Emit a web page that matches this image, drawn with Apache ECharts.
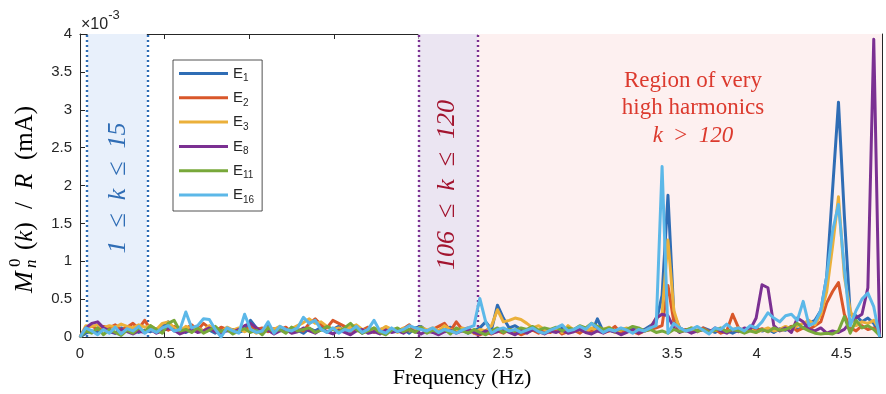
<!DOCTYPE html>
<html><head><meta charset="utf-8">
<script src="https://cdn.jsdelivr.net/npm/echarts@6/dist/echarts.min.js"></script>
<style>html,body{margin:0;padding:0;background:#fff}#c{width:886px;height:394px}</style>
</head><body><div id="c"></div>
<script>
// ---- data (values in units of 1e-3 mA) ----
const FREQ_STEP = 0.03475;           // Hz between spectral samples
const N_SAMPLES = 137;
const freq = Array.from({length: N_SAMPLES}, (_, i) => +(i * FREQ_STEP).toFixed(5));
const seriesNames = ['E1', 'E2', 'E3', 'E8', 'E11', 'E16'];

const E1 = [
 0,0.05,0.08,0.06,0.1,0.07,0.05,0.12,0.08,0.1,0.06,0.09,0.07,0.11,0.13,0.2,0.08,0.12,0.06,0.1,
 0.14,0.07,0.09,0.05,0.12,0.08,0.1,0.06,0.09,0.22,0.12,0.08,0.15,0.07,0.1,0.06,0.12,0.09,0.05,0.11,
 0.08,0.13,0.06,0.1,0.14,0.07,0.09,0.12,0.05,0.1,0.08,0.06,0.11,0.09,0.07,0.1,0.05,0.12,0.14,0.08,
 0.1,0.06,0.09,0.13,0.07,0.1,0.05,0.08,0.12,0.2,0.1,0.42,0.25,0.12,0.15,0.1,0.08,0.12,0.06,0.09,
 0.1,0.07,0.12,0.08,0.1,0.1,0.08,0.05,0.24,0.07,0.09,0.06,0.1,0.08,0.12,0.07,0.1,0.15,0.2,0.55,
 1.87,0.3,0.12,0.08,0.1,0.07,0.12,0.09,0.06,0.1,0.08,0.05,0.09,0.07,0.1,0.12,0.08,0.1,0.06,0.11,
 0.09,0.14,0.1,0.12,0.18,0.22,0.35,0.8,1.95,3.1,1.6,0.3,0.28,0.2,0.25,0.18,0.05];
const E2 = [
 0,0.12,0.15,0.1,0.14,0.12,0.16,0.09,0.13,0.18,0.11,0.22,0.1,0.06,0.12,0.09,0.14,0.08,0.11,0.16,
 0.09,0.18,0.12,0.07,0.13,0.1,0.06,0.11,0.08,0.14,0.1,0.12,0.07,0.11,0.09,0.13,0.06,0.1,0.08,0.18,
 0.24,0.16,0.12,0.22,0.18,0.14,0.07,0.11,0.09,0.13,0.06,0.1,0.12,0.07,0.09,0.11,0.16,0.08,0.12,0.06,
 0.1,0.14,0.18,0.08,0.2,0.1,0.12,0.05,0.03,0.06,0.04,0.08,0.05,0.1,0.07,0.03,0.06,0.09,0.05,0.08,
 0.06,0.1,0.04,0.07,0.09,0.05,0.11,0.07,0.12,0.06,0.08,0.14,0.05,0.09,0.07,0.04,0.08,0.1,0.12,0.15,
 0.68,0.2,0.08,0.1,0.06,0.09,0.12,0.07,0.1,0.05,0.08,0.3,0.12,0.06,0.1,0.08,0.11,0.07,0.12,0.09,
 0.1,0.14,0.08,0.12,0.1,0.15,0.2,0.45,0.6,0.72,0.3,0.12,0.08,0.15,0.1,0.12,0.06];
const E3 = [
 0,0.15,0.14,0.16,0.12,0.15,0.13,0.17,0.14,0.12,0.16,0.13,0.15,0.1,0.18,0.2,0.12,0.08,0.14,0.1,
 0.12,0.08,0.15,0.1,0.06,0.13,0.09,0.12,0.07,0.1,0.05,0.08,0.12,0.1,0.14,0.08,0.11,0.15,0.19,0.24,
 0.18,0.2,0.14,0.1,0.12,0.09,0.13,0.16,0.1,0.07,0.12,0.09,0.14,0.1,0.06,0.12,0.08,0.1,0.13,0.09,
 0.12,0.08,0.15,0.1,0.07,0.12,0.09,0.05,0.1,0.08,0.15,0.36,0.2,0.22,0.25,0.23,0.18,0.12,0.15,0.1,
 0.08,0.12,0.06,0.15,0.09,0.1,0.07,0.12,0.08,0.1,0.13,0.06,0.09,0.12,0.07,0.1,0.08,0.12,0.25,0.3,
 1.28,0.35,0.1,0.08,0.12,0.07,0.1,0.06,0.09,0.11,0.07,0.1,0.12,0.08,0.1,0.06,0.09,0.12,0.08,0.1,
 0.14,0.1,0.15,0.18,0.22,0.16,0.3,0.6,1.2,1.85,0.8,0.35,0.15,0.2,0.18,0.22,0.1];
const E8 = [
 0,0.12,0.18,0.2,0.12,0.08,0.05,0.1,0.07,0.04,0.08,0.06,0.1,0.05,0.08,0.12,0.09,0.04,0.07,0.1,
 0.06,0.08,0.12,0.07,0.04,0.09,0.06,0.1,0.15,0.18,0.12,0.06,0.09,0.04,0.08,0.1,0.05,0.07,0.12,0.08,
 0.05,0.1,0.07,0.04,0.09,0.06,0.03,0.08,0.1,0.05,0.07,0.04,0.09,0.06,0.08,0.05,0.1,0.07,0.04,0.08,
 0.06,0.03,0.07,0.09,0.05,0.08,0.1,0.06,0.04,0.08,0.05,0.07,0.1,0.06,0.03,0.08,0.05,0.1,0.07,0.04,
 0.08,0.06,0.09,0.05,0.07,0.1,0.06,0.04,0.08,0.05,0.09,0.07,0.03,0.06,0.1,0.05,0.08,0.12,0.25,0.3,
 0.28,0.12,0.06,0.09,0.05,0.08,0.1,0.06,0.12,0.08,0.05,0.1,0.07,0.12,0.1,0.25,0.69,0.65,0.15,0.08,
 0.12,0.06,0.25,0.2,0.1,0.08,0.12,0.05,0.08,0.06,0.1,0.2,0.25,0.3,0.65,3.93,0];
const E11 = [
 0,0.08,0.05,0.12,0.03,0.1,0.06,0.02,0.09,0.05,0.12,0.07,0.15,0.1,0.05,0.18,0.22,0.08,0.1,0.06,
 0.12,0.05,0.09,0.14,0.07,0.1,0.04,0.08,0.11,0.06,0.09,0.03,0.12,0.07,0.1,0.05,0.13,0.08,0.1,0.12,
 0.06,0.09,0.14,0.1,0.07,0.12,0.18,0.1,0.05,0.08,0.12,0.06,0.03,0.09,0.12,0.07,0.1,0.06,0.13,0.05,
 0.09,0.06,0.1,0.04,0.12,0.08,0.05,0.1,0.06,0.03,0.08,0.12,0.06,0.1,0.08,0.12,0.1,0.14,0.09,0.12,
 0.1,0.13,0.08,0.12,0.1,0.15,0.12,0.18,0.14,0.1,0.12,0.08,0.11,0.1,0.14,0.12,0.08,0.1,0.06,0.08,
 0.05,0.1,0.07,0.09,0.12,0.08,0.1,0.06,0.09,0.12,0.07,0.1,0.08,0.05,0.08,0.06,0.1,0.07,0.12,0.09,
 0.1,0.13,0.18,0.12,0.08,0.05,0.04,0.05,0.04,0.08,0.27,0.05,0.22,0.12,0.15,0.1,0.02];
const E16 = [
 0,0.12,0.08,0.03,0.1,0.05,0.13,0.04,0.11,0.08,0.14,0.05,0.1,0.06,0.12,0.15,0.08,0.1,0.33,0.12,
 0.15,0.24,0.23,0.1,0.0,0.12,0.08,0.05,0.3,0.1,0.06,0.08,0.2,0.05,0.14,0.1,0.08,0.12,0.26,0.18,
 0.22,0.1,0.06,0.12,0.05,0.1,0.08,0.14,0.06,0.1,0.22,0.08,0.05,0.12,0.07,0.1,0.15,0.12,0.1,0.08,
 0.12,0.06,0.1,0.08,0.05,0.09,0.12,0.15,0.51,0.2,0.05,0.1,0.12,0.08,0.1,0.06,0.09,0.12,0.07,0.05,
 0.09,0.12,0.16,0.08,0.1,0.14,0.1,0.18,0.12,0.06,0.1,0.08,0.12,0.09,0.05,0.1,0.08,0.12,0.15,2.25,
 0.05,0.18,0.12,0.08,0.1,0.14,0.09,0.04,0.12,0.1,0.17,0.1,0.12,0.08,0.15,0.12,0.2,0.32,0.25,0.2,
 0.28,0.3,0.22,0.47,0.15,0.19,0.35,0.8,1.4,1.75,0.9,0.15,0.35,0.5,0.58,0.4,0];
const seriesValues = [E1, E2, E3, E8, E11, E16];

// harmonic-range bands (Hz)
const bandLow = [0.045, 0.395];
const bandMid = [2.0, 2.35];
const bandHigh = [2.35, 4.74];
const xMax = 4.74, yMax = 4;

// ---- styling ----
const colors = ['#2f6db5', '#d9572a', '#ebb03a', '#7b3092', '#78a83a', '#5cb8e8'];
const SANS = "'Liberation Sans', Arial, sans-serif";
const SERIF = "'Liberation Serif', 'Times New Roman', serif";
const AX = '#262626';

const chart = echarts.init(document.getElementById('c'), null, {renderer: 'canvas'});

const axisCommon = {
  type: 'value', axisLine: {show: true, onZero: false, lineStyle: {color: AX, width: 1}},
  axisTick: {show: true, inside: true, length: 5, lineStyle: {color: AX, width: 1}},
  splitLine: {show: false}
};

const dataSeries = seriesNames.map((n, k) => ({
  name: n, type: 'line', z: 3, showSymbol: false, symbol: 'none',
  data: freq.map((f, i) => [f, seriesValues[k][i]]),
  lineStyle: {width: 3, color: colors[k], join: 'round'}, itemStyle: {color: colors[k]},
  emphasis: {disabled: true}
}));

const dotted = (c) => ({color: c, width: 2.4, type: [2, 3], cap: 'butt'});

const helper = {
  name: '_bands', type: 'line', z: 1, data: [], silent: true,
  markArea: {silent: true, z: 1, data: [
    [{xAxis: bandLow[0], itemStyle: {color: '#e8f0fb'}}, {xAxis: bandLow[1]}],
    [{xAxis: bandMid[0], itemStyle: {color: '#ebe5f2'}}, {xAxis: bandMid[1]}],
    [{xAxis: bandHigh[0], itemStyle: {color: '#fdf0f0'}}, {xAxis: bandHigh[1]}]
  ]},
  markLine: {silent: true, z: 2, symbol: 'none', label: {show: false}, data: [
    {xAxis: bandLow[0], lineStyle: dotted('#2f6db5')},
    {xAxis: bandLow[1], lineStyle: dotted('#2f6db5')},
    {xAxis: bandMid[0], lineStyle: dotted('#7b3092')},
    {xAxis: bandMid[1], lineStyle: dotted('#7b3092')}
  ]}
};

const option = {
  animation: false,
  backgroundColor: '#fff',
  grid: {left: 80, right: 4, top: 34, bottom: 57, containLabel: false},
  xAxis: [
    Object.assign({}, axisCommon, {position: 'bottom', min: 0, max: xMax, interval: 0.5,
      axisLabel: {color: AX, fontSize: 15, fontFamily: SANS, margin: 9, showMaxLabel: false,
        formatter: v => (Math.abs(v / 0.5 - Math.round(v / 0.5)) < 1e-6 ? String(v) : '')}}),
    Object.assign({}, axisCommon, {position: 'top', min: 0, max: xMax, interval: 0.5,
      axisLabel: {show: false}})
  ],
  yAxis: [
    Object.assign({}, axisCommon, {position: 'left', min: 0, max: yMax, interval: 0.5,
      axisLabel: {color: AX, fontSize: 15, fontFamily: SANS, margin: 8}}),
    Object.assign({}, axisCommon, {position: 'right', min: 0, max: yMax, interval: 0.5,
      axisLabel: {show: false}})
  ],
  legend: {
    data: seriesNames, orient: 'vertical', left: 173, top: 60,
    itemWidth: 49, itemHeight: 3, icon: 'rect', itemGap: 6.8,
    padding: [6, 8, 6, 6], borderColor: AX, borderWidth: 0.8, backgroundColor: '#fff', borderRadius: 0,
    selectedMode: false,
    formatter: name => '{e|E}{s|' + name.slice(1) + '}',
    textStyle: {color: AX, rich: {
      e: {fontSize: 15, fontFamily: SANS, color: AX, lineHeight: 20},
      s: {fontSize: 10, fontFamily: SANS, color: AX, lineHeight: 10, verticalAlign: 'bottom'}
    }}
  },
  series: [helper].concat(dataSeries),
  graphic: [
    // x10^-3 multiplier
    {type: 'text', left: 81, top: 9, z: 10, style: {
      text: '{a|×10}{b|-3}', rich: {
        a: {fontSize: 16, fontFamily: SANS, fill: AX, lineHeight: 24, verticalAlign: 'bottom'},
        b: {fontSize: 13, fontFamily: SANS, fill: AX, lineHeight: 13, verticalAlign: 'top'}}}},
    // x axis title
    {type: 'text', x: 462, y: 378, z: 10, style: {text: 'Frequency (Hz)', fontSize: 22, fontFamily: SERIF,
      fill: '#000', align: 'center', verticalAlign: 'middle'}},
    // y axis title (rotated)
    {type: 'group', x: 25, y: 205, rotation: Math.PI / 2, z: 10, children: [
      {type: 'text', x: -88, y: 0, style: {text: 'M', fontSize: 26, fontStyle: 'italic', fontFamily: SERIF, fill: '#000', align: 'left', verticalAlign: 'middle'}},
      {type: 'text', x: -63, y: 7, style: {text: 'n', fontSize: 17, fontStyle: 'italic', fontFamily: SERIF, fill: '#000', align: 'left', verticalAlign: 'middle'}},
      {type: 'text', x: -62, y: -9, style: {text: '0', fontSize: 17, fontFamily: SERIF, fill: '#000', align: 'left', verticalAlign: 'middle'}},
      {type: 'text', x: -45, y: 0, style: {text: '{u|(}{i|k}{u|)}', align: 'left', verticalAlign: 'middle', rich: {
        u: {fontSize: 25, fontFamily: SERIF, fill: '#000'}, i: {fontSize: 25, fontFamily: SERIF, fontStyle: 'italic', fill: '#000'}}}},
      {type: 'text', x: -4, y: 0, style: {text: '/', fontSize: 25, fontFamily: SERIF, fill: '#000', align: 'left', verticalAlign: 'middle'}},
      {type: 'text', x: 16, y: 0, style: {text: 'R', fontSize: 25, fontStyle: 'italic', fontFamily: SERIF, fill: '#000', align: 'left', verticalAlign: 'middle'}},
      {type: 'text', x: 45, y: 0, style: {text: '(mA)', fontSize: 25, fontFamily: SERIF, fill: '#000', align: 'left', verticalAlign: 'middle'}}
    ]},
    // band annotations
    {type: 'text', x: 118, y: 188, rotation: Math.PI / 2, z: 10, style: {text: '1  ≤  k  ≤  15', fontSize: 26, fontStyle: 'italic',
      fontFamily: SERIF, fill: '#2f6db5', align: 'center', verticalAlign: 'middle'}},
    {type: 'text', x: 447, y: 185, rotation: Math.PI / 2, z: 10, style: {text: '106  ≤  k  ≤  120', fontSize: 26, fontStyle: 'italic',
      fontFamily: SERIF, fill: '#a2142f', align: 'center', verticalAlign: 'middle'}},
    {type: 'text', x: 693, y: 108, z: 10, style: {
      text: '{r|Region of very}\n{r|high harmonics}\n{i|k}{r|  >  }{i|120}', align: 'center', verticalAlign: 'middle',
      rich: {r: {fontSize: 23, fontFamily: SERIF, fill: '#dc3a2e', lineHeight: 27.5},
             i: {fontSize: 23, fontFamily: SERIF, fontStyle: 'italic', fill: '#dc3a2e', lineHeight: 27.5}}}}
  ]
};
chart.setOption(option);
</script>
</body></html>
